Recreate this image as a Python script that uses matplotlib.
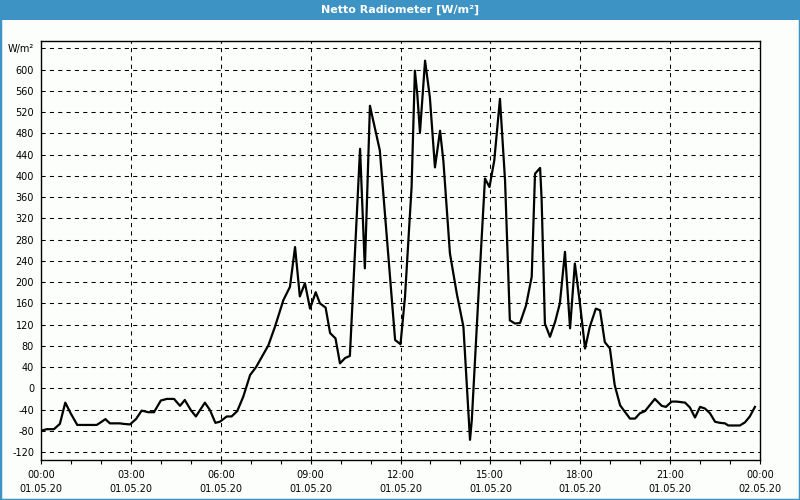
import matplotlib
matplotlib.use("Agg")
import matplotlib.pyplot as plt
from matplotlib.patches import Rectangle
from matplotlib.ticker import MultipleLocator

# Net radiation (time in hours since 01.05.20 00:00, W/m²)
hours = [0.0, 0.19, 0.43, 0.63, 0.81, 0.99, 1.21, 1.86, 1.97, 2.15, 2.3, 2.64, 2.75, 2.97,
         3.17, 3.36, 3.58, 3.77, 4.0, 4.2, 4.44, 4.64, 4.8, 5.0, 5.17, 5.47, 5.64, 5.82,
         5.97, 6.2, 6.36, 6.55, 6.75, 6.98, 7.18, 7.37, 7.59, 7.81, 8.09, 8.31, 8.48,
         8.64, 8.81, 8.98, 9.17, 9.31, 9.50, 9.65, 9.83, 9.98, 10.15, 10.31, 10.65,
         10.81, 10.98, 11.31, 11.82, 12.0, 12.15, 12.37, 12.48, 12.56, 12.65, 12.82,
         12.98, 13.15, 13.32, 13.43, 13.65, 13.88, 14.1, 14.32, 14.38, 14.6, 14.82,
         14.97, 15.13, 15.32, 15.49, 15.65, 15.82, 15.99, 16.19, 16.38, 16.49, 16.66,
         16.71, 16.82, 16.99, 17.16, 17.32, 17.49, 17.66, 17.82, 17.99, 18.16, 18.32,
         18.52, 18.66, 18.82, 18.99, 19.15, 19.33, 19.50, 19.66, 19.83, 19.99, 20.16,
         20.49, 20.72, 20.86, 21.05, 21.22, 21.5, 21.66, 21.83, 22.0, 22.16, 22.33,
         22.5, 22.66, 22.83, 22.94, 23.33, 23.5, 23.66, 23.83]
net_rad = [-80, -77, -77, -67, -27, -47, -69, -69, -65, -58, -66, -66, -67, -68,
           -58, -42, -45, -45, -23, -20, -20, -33, -22, -41, -53, -27, -41, -65,
           -63, -53, -53, -43, -16, 25, 40, 59, 81, 116, 166, 191, 266,
           173, 198, 150, 181, 160, 152, 104, 94, 47, 57, 61, 451,
           226, 532, 448, 91, 83, 172, 379, 598, 554, 482, 617,
           548, 416, 485, 429, 254, 178, 116, -97, -60, 172, 395,
           379, 429, 545, 391, 128, 122, 123, 156, 210, 404, 415,
           357, 122, 97, 125, 160, 257, 113, 235, 160, 75, 116,
           150, 147, 87, 75, 6, -32, -45, -57, -57, -47, -43,
           -20, -33, -35, -25, -25, -27, -36, -55, -35, -38, -47,
           -63, -65, -66, -70, -70, -64, -53, -35]

x_ticks = [0, 3, 6, 9, 12, 15, 18, 21, 24]
x_labels = ["00:00\n01.05.20", "03:00\n01.05.20", "06:00\n01.05.20", "09:00\n01.05.20",
            "12:00\n01.05.20", "15:00\n01.05.20", "18:00\n01.05.20", "21:00\n01.05.20",
            "00:00\n02.05.20"]
y_ticks = list(range(-120, 641, 40))
y_labels = [str(v) for v in y_ticks[:-1]] + ["W/m²"]

blue = "#3d93c4"
bg = "#fbfefb"

fig = plt.figure(figsize=(8, 5), dpi=100, facecolor=bg)

# window frame and title bar
fig.patches.append(Rectangle((0, 0), 1, 1, transform=fig.transFigure, fill=False,
                             edgecolor=blue, linewidth=2.5))
fig.patches.append(Rectangle((0, 1 - 20 / 500), 1, 20 / 500, transform=fig.transFigure,
                             facecolor=blue, edgecolor="none"))
fig.text(0.5, 1 - 10 / 500, "Netto Radiometer [W/m²]", color="white", fontsize=8,
         fontweight="bold", ha="center", va="center")

ax = fig.add_axes([41 / 800, 40 / 500, 719 / 800, 419 / 500])
ax.set_facecolor(bg)
ax.plot(hours, net_rad, color="black", linewidth=1.6)

ax.set_xlim(0, 24)
ax.set_ylim(-135, 654)
ax.set_xticks(x_ticks)
ax.set_xticklabels(x_labels, fontsize=7, linespacing=1.5)
ax.xaxis.set_minor_locator(MultipleLocator(1))
ax.set_yticks(y_ticks)
ax.set_yticklabels(y_labels, fontsize=7)

ax.tick_params(axis="y", length=0, pad=5)
ax.tick_params(axis="x", which="both", length=3, width=0.8, direction="out", pad=4)

ax.grid(True, which="major", color="black", linewidth=0.75, linestyle=(0, (4, 4)))

for sp in ax.spines.values():
    sp.set_linewidth(1)
    sp.set_color("black")

fig.savefig("out.png", dpi=100, facecolor=bg)
